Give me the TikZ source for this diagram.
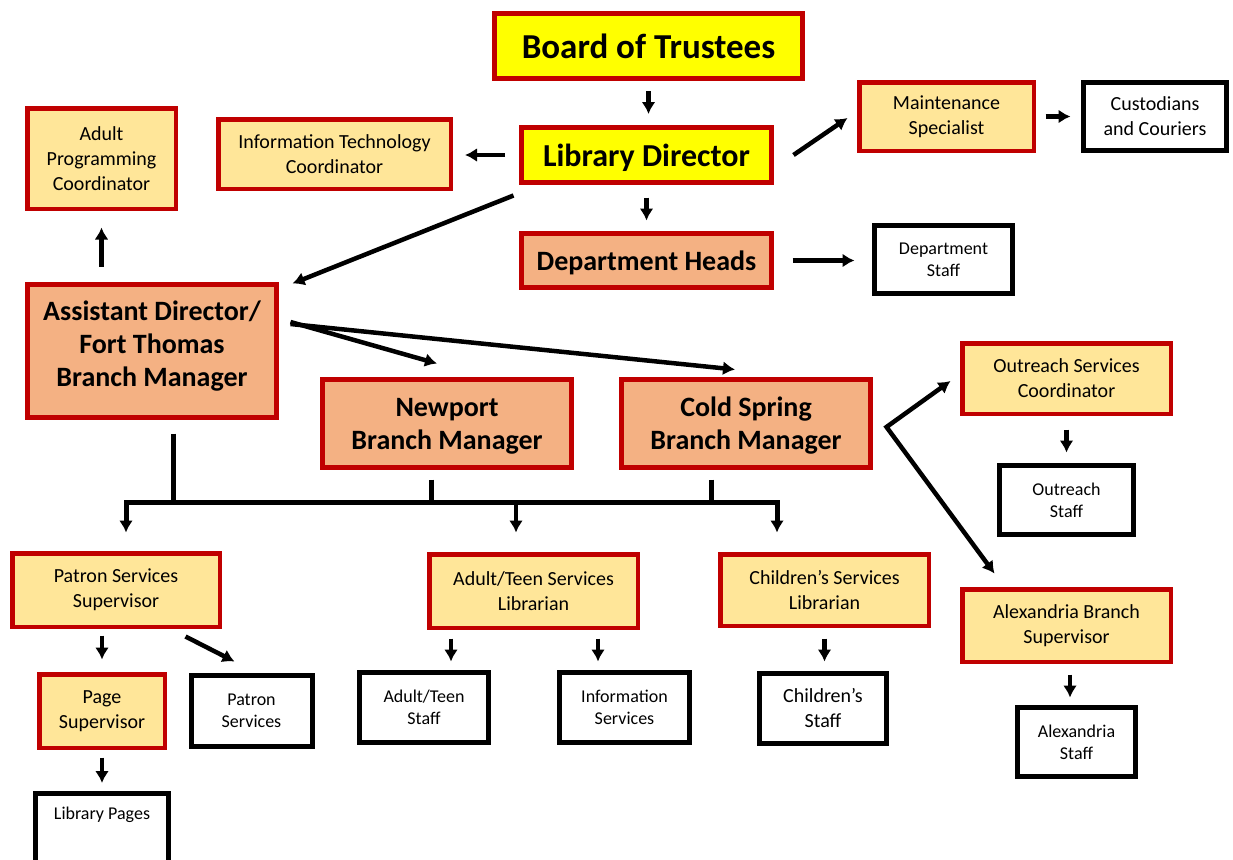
\documentclass[tikz,border=0pt]{standalone}
\usepackage{fontspec}
\setmainfont{Carlito}
\usetikzlibrary{shapes,arrows.meta,calc}
\definecolor{boxred}{HTML}{C00000}
\definecolor{topyellow}{HTML}{FFFF00}
\definecolor{headorange}{HTML}{F4B183}
\definecolor{subyellow}{HTML}{FFE699}

\begin{document}
\begin{tikzpicture}[x=1pt,y=-1pt,>={Latex[length=12pt,width=14pt]}]
\tikzset{every node/.style={align=center,inner sep=0pt}}
\tikzset{topbox/.style={draw=boxred,fill=topyellow,line width=5pt}}
\tikzset{headbox/.style={draw=boxred,fill=headorange,line width=5pt,font=\fontsize{28}{33}\selectfont\bfseries}}
\tikzset{subbox/.style={draw=boxred,fill=subyellow,line width=4.5pt,font=\fontsize{20}{25}\selectfont}}
\tikzset{staffbox/.style={draw=black,fill=white,line width=5pt,font=\fontsize{18}{22}\selectfont}}
\tikzset{arr/.style={line width=4.5pt,->,shorten <=8pt,shorten >=8pt}}
\tikzset{busline/.style={line width=5pt}}
\useasboundingbox[fill=white] (0,0) rectangle (1233,859);

% top of the tree
\node[topbox,font=\fontsize{35}{40}\selectfont\bfseries,minimum width=308pt,minimum height=65pt] (board) at (648.5,46) {Board of Trustees};
\node[topbox,font=\fontsize{32}{36}\selectfont\bfseries,text depth=0pt,minimum width=250pt,minimum height=55pt] (libdir) at (646.5,155) {Library Director};
\node[subbox,minimum width=232.5pt,minimum height=69.5pt] (itcoord) at (334.5,154) {Information Technology\\Coordinator};
\node[subbox,minimum width=148.5pt,minimum height=100.5pt] (adultprog) at (101.5,158.5) {Adult\\Programming\\Coordinator};
\node[subbox,minimum width=174.5pt,minimum height=68.5pt] (maint) at (946.5,116.5) {Maintenance\\Specialist};
\node[staffbox,font=\fontsize{20}{25}\selectfont,minimum width=143pt,minimum height=68pt] (cust) at (1155,116.5) {Custodians\\and Couriers};
\node[headbox,text depth=0pt,minimum width=250pt,minimum height=54pt] (heads) at (646.5,260.5) {Department Heads};
\node[staffbox,minimum width=138pt,minimum height=68pt] (deptstaff) at (943.5,259.5) {Department\\Staff};

% branches
\node[headbox,text depth=14pt,minimum width=249pt,minimum height=133pt] (asst) at (152,351) {Assistant Director/\\Fort Thomas\\Branch Manager};
\node[headbox,text depth=0pt,minimum width=249pt,minimum height=88pt] (newport) at (447,423.5) {Newport\\Branch Manager};
\node[headbox,text depth=0pt,minimum width=249pt,minimum height=88pt] (coldspring) at (746,423.5) {Cold Spring\\Branch Manager};
\node[subbox,minimum width=208.5pt,minimum height=70.5pt] (outreach) at (1066.5,378.5) {Outreach Services\\Coordinator};
\node[staffbox,minimum width=134pt,minimum height=69pt] (ostaff) at (1066.5,500) {Outreach\\Staff};
\node[subbox,minimum width=208.5pt,minimum height=72.5pt] (alexsup) at (1066.5,625.5) {Alexandria Branch\\Supervisor};
\node[staffbox,minimum width=118pt,minimum height=69pt] (alexstaff) at (1076.5,742) {Alexandria\\Staff};

% services
\node[subbox,minimum width=207.5pt,minimum height=73.5pt] (patsup) at (116,590) {Patron Services\\Supervisor};
\node[subbox,minimum width=208.5pt,minimum height=73.5pt] (atlib) at (533.5,591) {Adult/Teen Services\\Librarian};
\node[subbox,minimum width=208.5pt,minimum height=71.5pt] (chlib) at (824.5,590) {Children’s Services\\Librarian};
\node[subbox,minimum width=125.5pt,minimum height=73.5pt] (pagesup) at (102,711) {Page\\Supervisor};
\node[staffbox,minimum width=121pt,minimum height=71pt] (patserv) at (251.5,711) {Patron\\Services};
\node[staffbox,minimum width=129pt,minimum height=70pt] (atstaff) at (424,707.5) {Adult/Teen\\Staff};
\node[staffbox,minimum width=130pt,minimum height=70pt] (infoserv) at (624.5,707.5) {Information\\Services};
\node[staffbox,font=\fontsize{20}{25}\selectfont,minimum width=127pt,minimum height=70pt] (chstaff) at (823,708.5) {Children’s\\Staff};
\node[staffbox,anchor=north,minimum width=133pt,inner ysep=14pt,text depth=60pt] (libpages) at (102,790.5) {Library Pages};

% arrows
\draw[arr,shorten <=10pt,shorten >=11pt] (board.south) -- (board.south |- libdir.north);
\draw[arr,shorten <=14pt,shorten >=12pt] (libdir.west) -- (libdir.west -| itcoord.east);
\draw[arr,shorten <=0pt,shorten >=0pt] ([xshift=19.5pt]libdir.east) -- ([xshift=-9.5pt,yshift=-1.5pt]maint.west);
\draw[arr,shorten <=9.5pt,shorten >=10.5pt] (maint.east) -- (cust.west);
\draw[arr,shorten <=12.5pt,shorten >=10.5pt] (libdir.south) -- (libdir.south |- heads.north);
\draw[arr,shorten <=18.5pt,shorten >=17.5pt] (heads.east) -- (heads.east -| deptstaff.west);
\draw[arr,shorten <=0pt,shorten >=0pt] ([xshift=-5.5pt,yshift=-10.5pt]libdir.south west) -- ([xshift=13.5pt,yshift=-1.5pt]asst.north east);
\draw[arr,shorten <=15.5pt,shorten >=16.5pt] (adultprog.south |- asst.north) -- (adultprog.south);
\draw[arr,shorten <=0pt,shorten >=0pt] ([xshift=11.5pt,yshift=29pt]asst.east) -- ([xshift=-10pt,yshift=13.5pt]newport.north);
\draw[arr,shorten <=0pt,shorten >=0pt] ([xshift=11.5pt,yshift=27pt]asst.east) -- ([xshift=-11pt,yshift=7.5pt]coldspring.north);
\coordinate (csfork) at ([xshift=13.5pt,yshift=-3.5pt]coldspring.east);
\draw[line width=4.5pt,<->] ([xshift=-9.5pt,yshift=-2.5pt]outreach.west) -- (csfork) -- ([xshift=34.5pt,yshift=13.5pt]alexsup.north west);
\draw[arr,shorten <=13.5pt,shorten >=10.5pt] (outreach.south) -- (outreach.south |- ostaff.north);
\draw[arr,shorten <=10.5pt,shorten >=7.5pt] ([xshift=3.5pt]alexsup.south) -- ([xshift=-6.5pt]alexstaff.north);

% branch bus
\coordinate (busl) at (126,502);
\coordinate (busa) at (173,502);
\coordinate (busn) at (431,502);
\coordinate (busm) at (516,502);
\coordinate (busc) at (711,502);
\coordinate (busr) at (777,502);
\draw[busline,shorten <=13.5pt] (busa |- asst.south) -- (busa);
\draw[busline,shorten <=9.5pt] (busn |- newport.south) -- (busn);
\draw[busline,shorten <=9.5pt] (busc |- coldspring.south) -- (busc);
\draw[busline,<->,shorten <=18.5pt,shorten >=19.5pt] (busl |- patsup.north) -- (busl) -- (busr) -- (busr |- chlib.north);
\draw[arr,shorten <=0pt,shorten >=19.5pt] (busm) -- (busm |- atlib.north);

\draw[arr,shorten <=6.5pt,shorten >=12.5pt] (libpages.north |- patsup.south) -- (libpages.north |- pagesup.north);
\draw[arr,shorten <=0pt,shorten >=0pt] ([xshift=-36.5pt,yshift=-7.5pt]patsup.south east) -- ([xshift=-17pt,yshift=11.5pt]patserv.north);
\draw[arr,shorten <=8.5pt,shorten >=8.5pt] ([xshift=-82.5pt]atlib.south) -- ([xshift=27pt]atstaff.north);
\draw[arr,shorten <=8.5pt,shorten >=8.5pt] ([xshift=64.5pt]atlib.south) -- ([xshift=-26.5pt]infoserv.north);
\draw[arr,shorten <=10.5pt,shorten >=9.5pt] (chlib.south) -- (chlib.south |- chstaff.north);
\draw[arr,shorten <=7.5pt,shorten >=7.5pt] (libpages.north |- pagesup.south) -- (libpages.north);
\end{tikzpicture}
\end{document}
